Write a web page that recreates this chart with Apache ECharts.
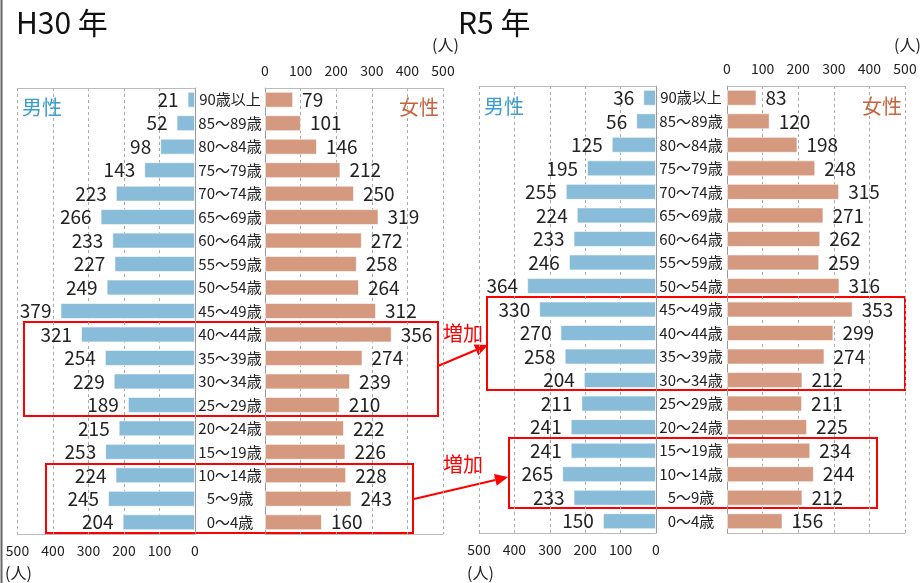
<!DOCTYPE html>
<html><head><meta charset="utf-8">
<script src="https://cdn.jsdelivr.net/npm/echarts@6/dist/echarts.min.js"></script>
<style>html,body{margin:0;padding:0;background:#fff}#c{width:923px;height:583px}</style>
</head><body><div id="c"></div>
<script>
const ages = ['90歳以上','85～89歳','80～84歳','75～79歳','70～74歳','65～69歳','60～64歳','55～59歳','50～54歳','45～49歳','40～44歳','35～39歳','30～34歳','25～29歳','20～24歳','15～19歳','10～14歳','5～9歳','0～4歳'];
const h30Male   = [21,52,98,143,223,266,233,227,249,379,321,254,229,189,215,253,224,245,204];
const h30Female = [79,101,146,212,250,319,272,258,264,312,356,274,239,210,222,226,228,243,160];
const r5Male    = [36,56,125,195,255,224,233,246,364,330,270,258,204,211,241,241,265,233,150];
const r5Female  = [83,120,198,248,315,271,262,259,316,353,299,274,212,211,225,234,244,212,156];
const tickMax = 500, tickStep = 100;

const FONT = '"Noto Sans CJK JP","Noto Sans",sans-serif';
const MALE_C = '#89bcd9', FEMALE_C = '#d4997f';
const chart = echarts.init(document.getElementById('c'), null, {renderer:'canvas'});

const grids = [
  {left:17.5, right:728, top:88, bottom:49},
  {left:265, right:480, top:88, bottom:49},
  {left:479, right:267, top:86, bottom:50},
  {left:727, right:18, top:86, bottom:50}
];
const xAxis = [], yAxis = [], series = [];
const splitLine = {show:true, lineStyle:{color:'#aaa', type:[3,3], width:1}};
grids.forEach((g,i)=>{
  const male = i%2===0;
  xAxis.push({gridIndex:i, type:'value', min:0, max:tickMax, interval:tickStep, inverse:male,
    position: male?'bottom':'top',
    axisLine:{show:true, lineStyle:{color:'#bbb'}}, axisTick:{show:false},
    axisLabel:{show:true, color:'#222', fontSize:14, fontFamily:FONT, margin:10},
    splitLine:splitLine});
  xAxis.push({gridIndex:i, type:'value', min:0, max:tickMax, interval:tickStep, inverse:male,
    position: male?'top':'bottom',
    axisLine:{show:true, lineStyle:{color:'#bbb'}}, axisTick:{show:false},
    axisLabel:{show:false}, splitLine:{show:false}});
  yAxis.push({gridIndex:i, type:'category', data:ages, inverse:true,
    position: male?'right':'left',
    axisLine:{show:true, lineStyle:{color:'#999'}}, axisTick:{show:false},
    axisLabel: male ? {show:true, color:'#222', fontSize:15, fontFamily:FONT, align:'center', margin:35} : {show:false},
    splitLine:{show:false}});
});
const dataSets = [h30Male, h30Female, r5Male, r5Female];
dataSets.forEach((d,i)=>{
  const male = i%2===0;
  series.push({type:'bar', xAxisIndex:i*2, yAxisIndex:i, data:d, barCategoryGap:'32%',
    itemStyle:{color: male?MALE_C:FEMALE_C, borderColor:'rgba(255,255,255,0.6)', borderWidth:1},
    label:{show:true, position: male?'left':'right', distance:9, color:'#222', fontSize:19, fontFamily:FONT},
    silent:true});
});

function arrow(x1,y1,x2,y2){
  const ang = Math.atan2(y2-y1,x2-x1), L=13, W=6;
  const bx = x2 - L*Math.cos(ang), by = y2 - L*Math.sin(ang);
  const px = -Math.sin(ang)*W, py = Math.cos(ang)*W;
  return [
    {type:'line', shape:{x1:x1,y1:y1,x2:bx,y2:by}, style:{stroke:'#ff0000', lineWidth:2}},
    {type:'polygon', shape:{points:[[x2,y2],[bx+px,by+py],[bx-px,by-py]]}, style:{fill:'#ff0000'}}
  ];
}
function rect(x1,y1,x2,y2){
  return {type:'rect', shape:{x:x1,y:y1,width:x2-x1,height:y2-y1}, style:{fill:'none', stroke:'#ff0000', lineWidth:2}};
}
function txt(x,y,t,size,color,extra){
  return Object.assign({type:'text', x:x, y:y, style:{text:t, fontSize:size, fill:color, fontFamily:FONT, textVerticalAlign:'middle'}}, extra||{});
}
const graphic = [
  {type:'line', shape:{x1:1.5,y1:0,x2:1.5,y2:583}, style:{stroke:'#666', lineWidth:2}},
  txt(16,23,'H30 年',30,'#111'),
  txt(458,23,'R5 年',30,'#111'),
  txt(432,45,'(人)',16,'#222'),
  txt(894,45,'(人)',16,'#222'),
  txt(5,573,'(人)',16,'#222'),
  txt(467,573,'(人)',16,'#222'),
  txt(22,107,'男性',20,'#3a9dd0'),
  txt(399,107,'女性',20,'#c8623a'),
  txt(484,106,'男性',20,'#3a9dd0'),
  txt(862,106,'女性',20,'#c8623a'),
  rect(24,322,438,416),
  rect(46,464,413,533),
  rect(487,297,905,390),
  rect(509,438,877,508),
  txt(443,333,'増加',20,'#ff0000'),
  txt(443,464,'増加',20,'#ff0000'),
  ...arrow(438,366,488,345),
  ...arrow(414,499,508,477)
];

chart.setOption({
  animation:false,
  grid:grids,
  xAxis:xAxis, yAxis:yAxis, series:series,
  graphic:graphic
});
</script></body></html>
